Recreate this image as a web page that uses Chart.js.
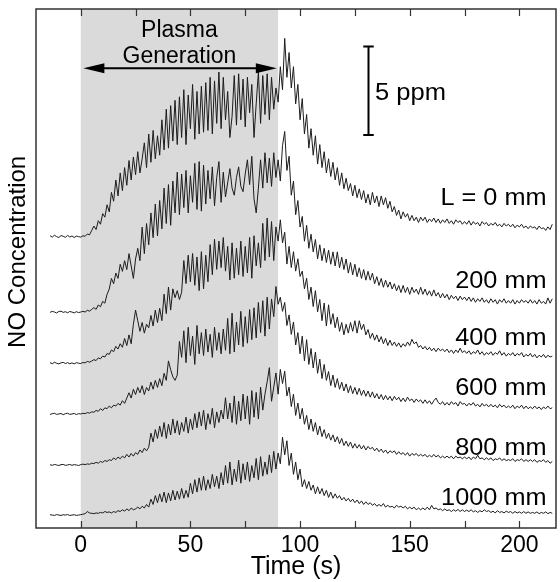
<!DOCTYPE html>
<html><head><meta charset="utf-8">
<script src="https://cdn.jsdelivr.net/npm/chart.js@4.4.1/dist/chart.umd.min.js"></script>
<style>html,body{margin:0;padding:0;background:#fff;}#wrap{width:560px;height:582px;}</style>
</head><body><div id="wrap"><canvas id="c" width="560" height="582"></canvas></div>
<script>
// sample times (s)
const timeS = [
-14,-13,-12,-11,-10,-9,-8,-7,-6,-5,
-4,-3,-2,-1,0,1,2,3,4,5,
6,7,8,9,10,11,12,13,14,15,
16,17,18,19,20,21,22,23,24,25,
26,27,28,29,30,31,32,33,34,35,
36,37,38,39,40,41,42,43,44,45,
46,47,48,49,50,51,52,53,54,55,
56,57,58,59,60,61,62,63,64,65,
66,67,68,69,70,71,72,73,74,75,
76,77,78,79,80,81,82,83,84,85,
86,87,88,89,90,91,92,93,94,95,
96,97,98,99,100,101,102,103,104,105,
106,107,108,109,110,111,112,113,114,115,
116,117,118,119,120,121,122,123,124,125,
126,127,128,129,130,131,132,133,134,135,
136,137,138,139,140,141,142,143,144,145,
146,147,148,149,150,151,152,153,154,155,
156,157,158,159,160,161,162,163,164,165,
166,167,168,169,170,171,172,173,174,175,
176,177,178,179,180,181,182,183,184,185,
186,187,188,189,190,191,192,193,194,195,
196,197,198,199,200,201,202,203,204,205,
206,207,208,209,210,211,212,213,214,215];

// distance labels and vertical trace offsets (ppm)
const distanceLabels = ['L = 0 mm','200 mm','400 mm','600 mm','800 mm','1000 mm'];
const traceOffsetPpm = [16.46, 12.2, 9.31, 6.44, 3.56, 0.73];

// NO concentration above pre-plasma level (ppm)
const no0mm = [
0.05,-0.03,0.08,0.00,-0.05,0.06,0.02,-0.04,0.07,-0.02,
0.04,-0.05,0.03,0.00,-0.03,0.05,0.02,0.15,0.10,0.35,
0.6,0.4,0.9,0.7,1.3,1.1,1.8,1.4,2.5,2.0,
3.2,2.3,3.6,2.6,3.9,2.9,4.3,3.2,4.5,3.5,
4.8,3.6,4.4,5.3,3.9,5.8,4.2,6.0,4.4,5.7,
4.6,6.6,4.9,7.2,5.0,7.4,5.4,7.7,5.2,7.9,
5.6,8.3,5.2,8.0,6.1,8.6,5.5,8.2,5.8,8.5,
5.9,8.7,6.0,9.0,5.8,8.8,6.4,9.3,6.1,9.0,
6.6,8.2,5.6,6.8,9.1,6.3,9.2,6.6,8.9,6.2,
9.0,7.0,8.6,5.6,7.5,9.3,6.4,9.1,6.9,9.2,
6.6,9.0,7.2,8.4,7.6,9.6,8.3,11.2,9.0,10.4,
8.4,9.6,7.5,8.6,6.6,7.8,5.8,6.9,5.0,6.1,
4.6,5.7,4.1,5.2,3.9,4.8,3.6,4.4,3.4,4.2,
3.2,3.9,2.9,3.6,2.7,3.3,2.6,3.0,2.3,2.9,
2.2,2.7,2.1,2.6,1.9,2.4,1.8,2.5,1.9,2.3,
1.7,2.3,1.8,2.2,1.6,2.0,1.4,1.7,1.2,1.5,
1.0,1.4,1.1,1.3,0.9,1.2,0.9,1.1,0.8,1.1,
0.9,1.1,0.8,1.0,0.85,1.05,0.8,1.0,0.75,0.95,
0.8,1.0,0.75,0.9,0.7,0.95,0.8,0.9,0.7,0.85,
0.7,0.9,0.65,0.85,0.7,0.8,0.6,0.85,0.7,0.8,
0.6,0.75,0.65,0.8,0.6,0.7,0.55,0.75,0.6,0.7,
0.55,0.7,0.5,0.65,0.55,0.7,0.5,0.6,0.45,0.6,
0.5,0.55,0.4,0.6,0.45,0.5,0.35,0.55,0.4,0.7];

const no200mm = [
-0.02,0.04,0.00,-0.05,0.03,0.05,-0.02,0.02,-0.04,0.03,
0.00,-0.05,0.02,-0.03,0.00,0.04,0.00,0.10,0.05,0.15,
0.25,0.15,0.4,0.3,0.6,0.5,1.0,1.3,1.9,1.6,
2.2,1.9,2.7,2.3,2.9,2.4,3.3,2.6,1.9,3.0,
3.6,2.9,4.8,3.3,5.0,3.8,5.6,4.2,6.1,4.3,
6.3,4.7,7.0,5.0,7.2,4.9,7.4,5.6,7.9,5.5,
7.8,5.9,8.0,5.6,7.7,6.2,8.4,5.8,8.5,5.7,
8.3,6.1,8.0,6.4,8.2,6.0,7.6,8.5,6.2,7.9,
6.5,7.3,8.1,7.0,6.6,7.6,8.2,7.1,6.8,7.8,
8.6,7.2,8.8,6.4,5.6,7.0,8.6,7.0,9.0,7.3,
8.7,7.1,9.0,7.6,8.6,7.4,9.4,10.2,8.0,8.8,
6.6,7.4,5.5,6.3,4.8,5.4,4.0,4.9,3.6,4.4,
3.4,4.1,3.0,3.8,2.9,3.6,2.8,3.5,2.7,3.4,
2.6,3.4,2.5,3.1,2.4,3.0,2.2,2.8,2.1,2.7,
2.0,2.5,1.9,2.4,1.8,2.3,1.8,2.2,1.6,2.0,
1.5,1.9,1.4,1.8,1.4,1.7,1.3,1.6,1.2,1.5,
1.1,1.5,1.1,1.4,1.0,1.4,1.1,1.3,1.0,1.4,
1.0,1.3,0.95,1.2,0.9,1.25,0.9,1.1,0.8,1.05,
0.8,1.0,0.7,0.95,0.75,0.9,0.65,0.9,0.7,0.85,
0.65,0.85,0.6,0.8,0.55,0.75,0.6,0.8,0.55,0.7,
0.5,0.75,0.55,0.7,0.45,0.7,0.55,0.75,0.5,0.65,
0.5,0.7,0.45,0.65,0.5,0.7,0.55,0.65,0.5,0.7,
0.5,0.65,0.45,0.7,0.5,0.6,0.45,0.8,0.5,0.75];

const no400mm = [
0.03,-0.03,0.05,0.00,-0.04,0.02,0.05,-0.02,0.03,-0.03,
0.02,-0.04,0.03,0.00,-0.02,0.04,0.02,0.10,0.06,0.12,
0.2,0.15,0.3,0.25,0.4,0.35,0.55,0.5,0.75,0.65,
0.95,0.8,1.1,0.9,1.4,1.0,1.6,1.1,2.2,3.0,
2.4,1.8,2.3,1.7,2.2,2.0,2.7,2.1,3.0,2.3,
3.1,2.4,3.9,2.8,4.3,3.0,4.2,3.7,4.1,3.6,
4.0,5.8,4.5,6.1,4.6,6.2,4.4,6.0,4.1,6.3,
4.2,6.1,4.6,6.7,5.0,7.0,5.3,6.9,5.4,7.1,
5.2,6.6,4.7,6.8,4.8,6.5,5.0,6.9,4.9,6.6,
5.1,7.1,4.8,7.2,5.5,6.8,5.4,7.9,5.8,8.2,
6.0,8.0,5.8,7.7,6.9,8.1,6.8,7.4,5.6,6.6,
5.4,6.3,5.2,5.9,4.9,5.2,4.2,4.8,3.6,4.3,
3.2,4.1,2.9,3.6,2.4,3.4,2.1,3.3,2.2,2.8,
2.0,2.6,1.8,2.3,1.6,2.2,1.7,2.3,1.8,2.4,
1.7,2.4,1.9,2.2,1.6,1.9,1.4,1.7,1.3,1.6,
1.2,1.5,1.1,1.4,1.0,1.3,1.0,1.2,0.95,1.15,
0.9,1.1,0.95,1.2,1.0,1.35,1.1,1.2,0.9,1.0,
0.8,0.95,0.75,0.9,0.7,0.85,0.65,0.85,0.7,0.8,
0.65,0.8,0.6,0.75,0.55,0.75,0.6,0.85,0.6,0.7,
0.55,0.7,0.5,0.65,0.55,0.75,0.5,0.65,0.45,0.6,
0.5,0.65,0.45,0.6,0.5,0.7,0.45,0.6,0.4,0.55,
0.45,0.6,0.4,0.55,0.45,0.6,0.35,0.5,0.4,0.55,
0.35,0.5,0.3,0.45,0.35,0.5,0.3,0.45,0.35,0.4];

const no600mm = [
-0.03,0.02,0.04,-0.02,0.00,0.03,-0.04,0.02,0.04,-0.02,
0.00,0.03,-0.03,0.02,0.00,0.04,0.02,0.08,0.05,0.12,
0.1,0.2,0.15,0.3,0.2,0.35,0.3,0.45,0.35,0.5,
0.45,0.6,0.5,0.75,0.6,0.9,1.2,0.9,1.4,1.1,
1.5,1.2,1.6,1.1,1.5,1.3,1.8,1.4,1.9,1.5,
2.0,1.6,2.3,1.9,3.0,2.5,2.1,1.9,2.2,4.1,
3.2,4.7,2.9,4.9,3.3,4.4,2.8,5.0,3.4,4.6,
3.3,4.8,3.5,4.5,3.2,4.9,3.6,4.6,3.4,4.8,
3.6,5.4,3.4,5.7,3.5,5.2,3.9,5.8,3.8,5.5,
4.0,5.9,4.2,6.0,4.3,6.3,4.6,6.4,4.4,6.6,
4.8,6.5,5.5,7.2,6.2,6.6,5.8,6.3,5.0,5.6,
4.5,5.2,3.9,4.6,3.4,4.4,3.0,4.2,2.8,3.7,
2.6,3.5,2.3,3.1,2.0,2.8,1.9,2.4,1.6,2.2,
1.5,2.0,1.4,1.8,1.3,1.7,1.2,1.6,1.15,1.5,
1.1,1.45,1.05,1.35,1.0,1.3,0.95,1.25,0.9,1.15,
0.85,1.1,0.8,1.05,0.8,1.0,0.75,1.0,0.8,0.95,
0.7,0.9,0.7,0.95,0.75,0.85,0.65,0.85,0.7,0.8,
0.6,0.8,0.6,0.75,0.55,0.75,0.9,0.65,0.55,0.7,
0.5,0.65,0.5,0.7,0.55,0.65,0.45,0.7,0.55,0.6,
0.45,0.6,0.5,0.65,0.45,0.55,0.4,0.6,0.45,0.55,
0.4,0.55,0.4,0.5,0.35,0.55,0.4,0.5,0.35,0.45,
0.35,0.5,0.3,0.45,0.35,0.5,0.3,0.45,0.3,0.4,
0.3,0.45,0.3,0.4,0.25,0.4,0.3,0.45,0.3,0.35];

const no800mm = [
0.02,-0.02,0.03,0.00,-0.03,0.02,0.03,-0.02,0.00,0.03,
-0.02,0.02,0.00,-0.03,0.02,0.05,0.02,0.06,0.04,0.10,
0.08,0.15,0.1,0.2,0.15,0.25,0.2,0.3,0.25,0.4,
0.3,0.45,0.35,0.5,0.4,0.6,0.45,0.65,0.5,0.7,
0.6,0.85,0.7,0.95,0.8,1.0,1.8,1.3,2.0,1.5,
2.2,1.6,2.4,1.5,2.3,1.7,2.6,1.8,2.5,1.7,
2.4,1.9,2.7,1.8,2.6,2.0,2.9,2.1,3.0,2.2,
3.1,2.0,2.9,2.3,3.2,2.1,3.0,2.4,3.1,2.6,
3.8,2.6,3.5,2.4,3.9,2.3,3.6,2.5,4.0,2.6,
3.9,2.3,4.2,2.7,4.1,2.6,4.4,3.1,4.0,4.7,
5.5,3.6,4.4,5.2,4.0,5.4,4.6,5.3,3.9,4.4,
3.3,4.0,2.8,3.5,2.6,3.2,2.3,2.8,2.0,2.6,
1.9,2.4,1.7,2.2,1.6,2.0,1.5,1.8,1.4,1.7,
1.3,1.6,1.2,1.5,1.1,1.35,1.05,1.3,0.95,1.2,
0.95,1.15,0.9,1.1,0.85,1.05,0.9,1.0,0.8,0.95,
0.75,0.9,0.7,0.85,0.65,0.8,0.7,0.8,0.6,0.75,
0.6,0.7,0.55,0.7,0.5,0.65,0.55,0.65,0.5,0.6,
0.5,0.6,0.45,0.55,0.45,0.6,0.45,0.55,0.4,0.5,
0.4,0.5,0.4,0.5,0.35,0.5,0.4,0.45,0.35,0.45,
0.35,0.45,0.3,0.45,0.35,0.55,0.35,0.4,0.3,0.4,
0.3,0.4,0.25,0.35,0.3,0.4,0.25,0.35,0.25,0.3,
0.25,0.35,0.2,0.3,0.25,0.35,0.2,0.3,0.2,0.3,
0.2,0.3,0.15,0.25,0.2,0.3,0.15,0.25,0.1,0.2];

const no1000mm = [
0.02,0.00,-0.02,0.03,0.00,-0.02,0.02,0.00,0.03,-0.02,
0.00,0.02,-0.02,0.00,0.02,0.05,0.08,0.20,0.12,0.10,
0.08,0.12,0.1,0.15,0.12,0.2,0.15,0.18,0.12,0.2,
0.15,0.25,0.2,0.3,0.22,0.35,0.25,0.4,0.3,0.35,
0.45,0.35,0.5,0.4,0.6,0.45,0.9,0.6,1.1,0.7,
1.2,0.75,1.3,0.7,1.25,0.8,1.4,0.85,1.35,0.9,
1.5,0.95,1.4,1.0,1.8,1.2,2.0,1.3,2.1,1.4,
2.2,1.4,2.0,1.5,2.3,1.6,2.2,1.5,2.4,1.7,
2.8,1.8,3.0,1.7,2.6,1.9,3.1,1.8,2.9,2.0,
3.0,1.9,2.8,2.1,3.2,2.0,3.3,2.2,3.0,2.3,
3.4,2.4,3.6,2.6,3.5,2.9,4.4,3.4,4.2,2.8,
3.5,2.3,3.0,2.0,2.6,1.6,2.0,1.5,1.9,1.4,
1.7,1.2,1.6,1.2,1.5,1.1,1.4,1.0,1.3,0.95,
1.2,0.95,1.1,0.85,1.0,0.8,0.95,0.75,0.9,0.7,
0.85,0.65,0.8,0.6,0.75,0.6,0.7,0.55,0.65,0.5,
0.6,0.5,0.65,0.45,0.55,0.45,0.5,0.4,0.55,0.45,
0.5,0.4,0.5,0.35,0.45,0.35,0.45,0.3,0.4,0.3,
0.4,0.3,0.45,0.3,0.55,0.35,0.4,0.3,0.35,0.25,
0.35,0.25,0.3,0.2,0.3,0.22,0.32,0.2,0.3,0.2,
0.28,0.2,0.3,0.18,0.25,0.15,0.25,0.18,0.3,0.2,
0.25,0.15,0.22,0.12,0.25,0.15,0.2,0.12,0.22,0.15,
0.2,0.1,0.2,0.12,0.18,0.1,0.2,0.1,0.18,0.1,
0.15,0.1,0.18,0.08,0.15,0.1,0.18,0.08,0.15,0.1];

const traces = [no0mm, no200mm, no400mm, no600mm, no800mm, no1000mm];

// axis ticks and titles
const xTickValues = [0,25,50,75,100,125,150,175,200];
const xTickLabels = ['0','','50','','100','','150','','200'];
const xTitle = 'Time (s)';
const yTitle = 'NO Concentration';

// plasma generation window (s) and scale bar size (ppm)
const plasmaStartS = 0;
const plasmaEndS = 90;
const scaleBarPpm = 5;

// annotation anchors (data units)
const notes = {
  arrow: {x0: 1.2, x1: 89.4, y: 25.97},
  plasmaText: {x: 45, yLine1: 27.76, yLine2: 26.25},
  scaleBar: {x: 131, yBottom: 22.2, capHalfS: 2.6},
  scaleText: {x: 134.2, y: 24.18},
  labelX: 212.4,
  labelY: [18.25, 13.56, 10.34, 7.51, 4.12, 1.30],
  yTitleCenter: 15.6
};

const FONT = '"Liberation Sans", Arial, Helvetica, sans-serif';

function stretchedText(ctx, text, x, y, align, sx) {
  ctx.save();
  ctx.translate(x, y);
  ctx.scale(sx, 1);
  ctx.textAlign = align;
  ctx.fillText(text, 0, 0);
  ctx.restore();
}

const annot = {
  id: 'annot',
  beforeDatasetsDraw(chart) {
    const {ctx, chartArea: a, scales: {x}} = chart;
    ctx.save();
    ctx.fillStyle = '#dadada';
    const x0 = x.getPixelForValue(plasmaStartS), x1 = x.getPixelForValue(plasmaEndS);
    ctx.fillRect(x0, a.top, x1 - x0, a.bottom - a.top);
    ctx.restore();
  },
  afterDatasetsDraw(chart) {
    const {ctx, chartArea: a, scales: {x, y}} = chart;
    ctx.save();
    // frame
    ctx.strokeStyle = '#333';
    ctx.lineWidth = 1.5;
    ctx.strokeRect(a.left, a.top, a.right - a.left, a.bottom - a.top);
    // inward ticks top and bottom
    ctx.lineWidth = 1.2;
    xTickValues.forEach(v => {
      const px = Math.round(x.getPixelForValue(v)) + 0.5;
      ctx.beginPath();
      ctx.moveTo(px, a.bottom); ctx.lineTo(px, a.bottom - 7);
      ctx.moveTo(px, a.top); ctx.lineTo(px, a.top + 7);
      ctx.stroke();
    });
    // double arrow
    const ay = y.getPixelForValue(notes.arrow.y);
    const ax0 = x.getPixelForValue(notes.arrow.x0), ax1 = x.getPixelForValue(notes.arrow.x1);
    ctx.strokeStyle = '#000'; ctx.fillStyle = '#000'; ctx.lineWidth = 2;
    ctx.beginPath(); ctx.moveTo(ax0 + 15, ay); ctx.lineTo(ax1 - 15, ay); ctx.stroke();
    ctx.beginPath(); ctx.moveTo(ax0, ay); ctx.lineTo(ax0 + 21, ay - 5); ctx.lineTo(ax0 + 21, ay + 5); ctx.closePath(); ctx.fill();
    ctx.beginPath(); ctx.moveTo(ax1, ay); ctx.lineTo(ax1 - 21, ay - 5); ctx.lineTo(ax1 - 21, ay + 5); ctx.closePath(); ctx.fill();
    // plasma text
    ctx.font = '23px ' + FONT;
    ctx.textBaseline = 'alphabetic';
    ctx.textAlign = 'center';
    const px = x.getPixelForValue(notes.plasmaText.x);
    ctx.fillText('Plasma', px, y.getPixelForValue(notes.plasmaText.yLine1));
    ctx.fillText('Generation', px, y.getPixelForValue(notes.plasmaText.yLine2));
    // scale bar
    const sx = Math.round(x.getPixelForValue(notes.scaleBar.x)) + 0.5;
    const sy0 = y.getPixelForValue(notes.scaleBar.yBottom);
    const sy1 = y.getPixelForValue(notes.scaleBar.yBottom + scaleBarPpm);
    const cw = x.getPixelForValue(notes.scaleBar.x + notes.scaleBar.capHalfS) - sx;
    ctx.lineWidth = 2;
    ctx.beginPath();
    ctx.moveTo(sx, sy0); ctx.lineTo(sx, sy1);
    ctx.moveTo(sx - cw, sy0); ctx.lineTo(sx + cw, sy0);
    ctx.moveTo(sx - cw, sy1); ctx.lineTo(sx + cw, sy1);
    ctx.stroke();
    stretchedText(ctx, scaleBarPpm + ' ppm', x.getPixelForValue(notes.scaleText.x), y.getPixelForValue(notes.scaleText.y), 'left', 1.11);
    // distance labels
    distanceLabels.forEach((t, i) => {
      stretchedText(ctx, t, x.getPixelForValue(notes.labelX), y.getPixelForValue(notes.labelY[i]), 'right', 1.1);
    });
    ctx.restore();
  },
  afterDraw(chart) {
    const {ctx, scales: {y}} = chart;
    ctx.save();
    ctx.font = '24px ' + FONT;
    ctx.fillStyle = '#000';
    ctx.textAlign = 'center';
    ctx.textBaseline = 'middle';
    ctx.translate(18, y.getPixelForValue(notes.yTitleCenter));
    ctx.rotate(-Math.PI / 2);
    ctx.fillText(yTitle, 0, 0);
    ctx.restore();
  }
};

const datasets = traces.map((vals, i) => ({
  label: distanceLabels[i],
  data: timeS.map((t, k) => ({x: t, y: traceOffsetPpm[i] + vals[k]})),
  borderColor: '#1c1c1c',
  borderWidth: 1,
  pointRadius: 0,
  tension: 0,
  fill: false
}));

new Chart(document.getElementById('c'), {
  type: 'line',
  data: {datasets},
  plugins: [annot],
  options: {
    responsive: false,
    animation: false,
    layout: {padding: {top: 9, right: 4, bottom: 0, left: 0}},
    plugins: {legend: {display: false}, tooltip: {enabled: false}},
    scales: {
      x: {
        type: 'linear', min: -20.4, max: 216.7,
        afterFit: s => { s.height = 54; },
        afterBuildTicks: s => { s.ticks = xTickValues.map(v => ({value: v})); },
        grid: {display: false, drawTicks: false, tickLength: 0},
        border: {display: false},
        ticks: {
          autoSkip: false, maxRotation: 0, padding: 4, color: '#000',
          font: {size: 23, family: FONT},
          callback: (v) => xTickLabels[xTickValues.indexOf(v)] ?? ''
        },
        title: {display: true, text: xTitle, color: '#000', font: {size: 25, family: FONT}, padding: {top: 0, bottom: 0}}
      },
      y: {
        type: 'linear', min: 0, max: 29.32,
        afterFit: s => { s.width = 36; },
        grid: {display: false, drawTicks: false, tickLength: 0},
        border: {display: false},
        ticks: {display: false},
        title: {display: false, text: yTitle}
      }
    }
  }
});
</script></body></html>
